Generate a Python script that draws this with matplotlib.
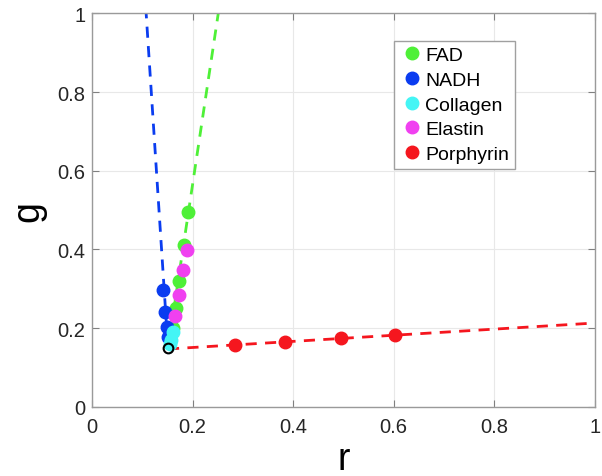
import matplotlib.pyplot as plt
import numpy as np

plt.rcParams['font.family'] = ['Liberation Sans', 'DejaVu Sans']

# data
fad_r = [0.191, 0.183, 0.173, 0.167, 0.160]
fad_g = [0.496, 0.412, 0.320, 0.250, 0.200]
nadh_r = [0.142, 0.145, 0.148, 0.150]
nadh_g = [0.298, 0.241, 0.203, 0.177]
col_r = [0.160, 0.157, 0.155]
col_g = [0.190, 0.169, 0.160]
ela_r = [0.188, 0.180, 0.172, 0.165]
ela_g = [0.398, 0.347, 0.283, 0.230]
por_r = [0.285, 0.384, 0.496, 0.602]
por_g = [0.157, 0.165, 0.175, 0.183]
origin = (0.151, 0.149)

# dashed fit lines (end points)
fad_line_r = [0.151, 0.251]
fad_line_g = [0.149, 1.0]
nadh_line_r = [0.151, 0.1075]
nadh_line_g = [0.149, 1.0]
por_line_r = [0.151, 1.0]
por_line_g = [0.147, 0.213]

green = '#4ef037'
blue = '#0a3cf0'
cyan = '#44f5f5'
magenta = '#f040f0'
red = '#f5161e'

fig = plt.figure(figsize=(6.02, 4.77), dpi=100)
ax = fig.add_axes([0.153, 0.145, 0.835, 0.825])

ax.plot(nadh_line_r, nadh_line_g, '--', color=blue, lw=2, dashes=(4, 3))
ax.plot(fad_line_r, fad_line_g, '--', color=green, lw=2, dashes=(4, 3))
ax.plot(por_line_r, por_line_g, '--', color=red, lw=2, dashes=(4, 3))

ms = 9
ax.plot(fad_r, fad_g, 'o', color=green, ms=ms, label='FAD')
ax.plot(nadh_r, nadh_g, 'o', color=blue, ms=ms, label='NADH')
ax.plot(col_r, col_g, 'o', color=cyan, ms=ms, label='Collagen')
ax.plot(ela_r, ela_g, 'o', color=magenta, ms=ms, label='Elastin')
ax.plot(por_r, por_g, 'o', color=red, ms=ms, label='Porphyrin')
ax.plot([origin[0]], [origin[1]], 'o', mfc='none', mec='black', mew=1.5, ms=7)

ax.set_xlim(0, 1)
ax.set_ylim(0, 1)
ax.set_xticks(np.arange(0, 1.01, 0.2))
ax.set_yticks(np.arange(0, 1.01, 0.2))
ax.set_xticklabels(['0', '0.2', '0.4', '0.6', '0.8', '1'])
ax.set_yticklabels(['0', '0.2', '0.4', '0.6', '0.8', '1'])
ax.tick_params(direction='in', labelsize=14.5, length=5, color='#808080',
               labelcolor='#262626', top=True, right=True)
ax.tick_params(axis='x', pad=7)
ax.tick_params(axis='y', pad=5)
ax.grid(True, color='#e8e8e8', lw=0.8)
ax.set_axisbelow(True)
for s in ax.spines.values():
    s.set_color('#9a9a9a')
    s.set_linewidth(1.0)
ax.set_xlabel('r', fontsize=27, labelpad=4)
ax.set_ylabel('g', fontsize=27, labelpad=8)

ax.legend(loc='upper left', bbox_to_anchor=(0.601, 0.93), borderaxespad=0,
          fontsize=14, handletextpad=0.1, handlelength=1.2, borderpad=0.3,
          labelspacing=0.36, fancybox=False, edgecolor='#a0a0a0', framealpha=1)

fig.savefig('out.png', dpi=100)
